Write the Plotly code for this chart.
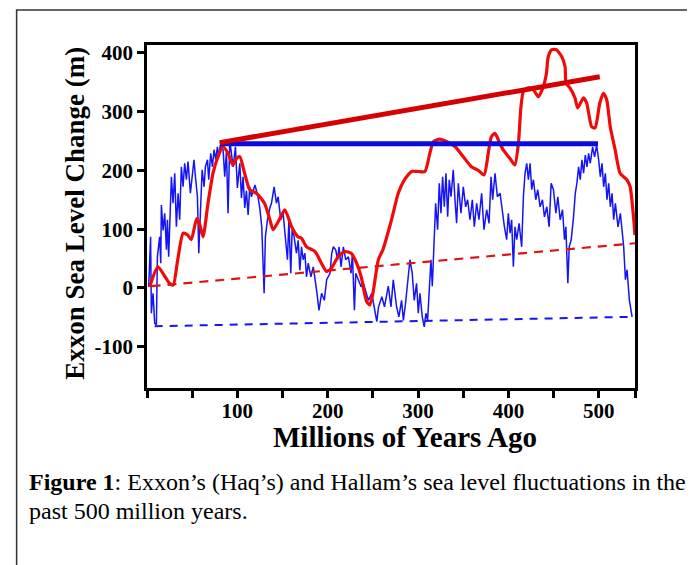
import plotly.graph_objects as go

# ---------------- data ----------------
hallam_age = [3, 12, 20, 25, 29, 34, 40, 45, 49, 55, 58, 62, 67.5, 73, 78.6, 84, 89.7, 95, 99,
              102.7, 108, 113.7, 121, 130, 136, 139.6, 146, 152.5, 160, 167, 171, 176.5, 186,
              193, 198.7, 204, 211.5, 219, 226, 232, 237, 243, 246.6, 250, 256, 261, 270.6,
              278, 285, 293, 300, 307.5, 313, 317, 324, 331.5, 341, 350, 359, 366.6, 373,
              377.6, 381, 385, 388.7, 394, 401.7, 407, 411, 413.8, 416.5, 422, 427.5, 433,
              438.5, 442, 444, 448, 453, 459, 462.6, 463.7, 468, 473.6, 476.6, 483, 486.6,
              492, 495.8, 501, 505, 508.7, 512.6, 518, 523.5, 531, 534.6, 538, 540]
hallam_level = [2, 36, 19, 8, 5, 48, 93, 90, 82, 118, 110, 87, 144, 195, 223, 240, 229, 209, 220,
                223, 195, 167, 161, 144, 116, 99, 115, 133, 104, 87, 84.5, 70, 62,
                42, 28, 33.5, 53, 62, 59, 42, 19, -23, -29, -9, 48, 65, 116,
                161, 184, 198, 198, 198, 229, 249, 253, 249, 240, 223, 206, 200, 192,
                229, 257, 263, 252, 235, 220, 209, 246, 308, 334, 340, 337, 325,
                342, 365, 393, 405, 405, 393, 376, 348, 340, 323, 306, 323, 314,
                274, 272, 314, 331, 320, 274, 235, 195, 184, 172, 127, 90]

exxon_age = [1.9, 3, 4, 4.8, 6.7, 8.5, 10.4, 11.5, 14, 15.2, 15.9, 17.8, 19.6, 21.5, 22.6, 24,
             27, 28.8, 30.7, 32.5, 34.4, 36.2, 38, 39.9, 41.7, 43.6, 45.4, 48, 49.9, 52, 53.6,
             55.8, 57.3, 59.5, 61, 63.2, 64.6, 66.9, 68.3, 70.5, 72.4, 74.2, 76, 77.9, 79.4,
             81.2, 84.2, 86, 87.9, 89.7, 91.6, 93.4, 95.3, 97.9, 100, 102.7, 104.5, 106.3,
             108.2, 110, 111.9, 113.7, 115.6, 117.4, 119.5, 122.8, 124.8, 127, 129.6, 131,
             133.3, 135.9, 137.7, 140.7, 143.2, 145.1, 148, 150.6, 153.2, 155.4, 157, 159.1,
             160.6, 162.8, 165.4, 167.3, 169.1, 171, 172.8, 174.7, 176.5, 178.4, 181.4, 184,
             187.7, 190.3, 193.2, 196.2, 198.8, 202.5, 204.4, 206.2, 208.8, 211, 212.5, 214.7,
             217.3, 219.9, 222.9, 225.8, 227.3, 229.5, 231, 234, 236.9, 239.5, 242.1, 245,
             248.7, 252.4, 254.3, 256.2, 258, 259.9, 262.8, 265.4, 267, 270, 272.5, 276.2,
             278.7, 281.7, 283.7, 286.1, 288.3, 291, 293.5, 295.7, 298.3, 300.2, 302, 304.6,
             306.8, 308.6, 310.5, 312.4, 314.2, 315.7, 317.5, 319.4, 321.6, 323.4, 325.3,
             327.1, 329, 330.8, 332.7, 334.5, 336.4, 338.9, 340.8, 342.6, 344.5, 347.4, 350,
             352.6, 354.8, 357.4, 360, 362.2, 364.8, 367.3, 370.3, 372.9, 375.9, 378.5, 380.7,
             382.5, 385.1, 387.7, 390.7, 393.3, 395.5, 398, 399.8, 401.7, 403.5, 405.4, 407.2,
             409.1, 411.7, 414.6, 416.5, 418.3, 420.2, 422, 423.9, 425.7, 427.6, 430.2, 432.4,
             435, 437.6, 439.8, 442.4, 445, 447.2, 449.8, 452.4, 454.6, 457.2, 459.8, 462,
             463.5, 465.7, 467.2, 469.4, 472, 473.9, 475.7, 477.6, 479.4, 481.3, 483.1, 485,
             486.8, 488.7, 490.5, 493.1, 495.3, 497.5, 499.8, 501.6, 503.5, 505.3, 507.2, 509,
             510.9, 512.7, 514.6, 516.4, 518.3, 521.2, 523.8, 525.6, 527.5, 529.4, 531.2,
             533.8, 536.8]
exxon_level = [2, 60, 87, -43, -9, -60, -63, 53, 87, 42, 141, 98, 127, 65, 116, 53,
               189, 144, 195, 104, 161, 116, 206, 172, 212, 184, 215, 161, 184, 218, 189,
               155, 59, 144, 201, 172, 206, 218, 184, 229, 206, 235, 218, 240, 223,
               243, 235, 189, 232, 127, 252, 229, 206, 240, 170, 212, 153, 189,
               136, 165, 124, 172, 155, 165, 175, 155, 136, 104, -9, 87,
               116, 136, 144, 172, 144, 155, 116, 127, 87, 48, 116, 25,
               98, 87, 59, 81, 30, 70, 48, 59, 19, 42, 19, 36,
               -4, -38, -9, -21, 14, 25, 59, 70, 65, 48, 70, 36,
               70, 48, 53, 25, 59, -38, 25, 14, 2, 8, -4, -21,
               -9, -43, -57, -32, -23, -15, -32, -9, 3, -32, 14, -32,
               -49, -21, -55, -26, 14, 48, 25, -21, 8, -43, -9, -49,
               -66, -43, -55, 3, 48, 3, 70, 144, 99, 178, 127,
               189, 138, 195, 121, 184, 155, 201, 150, 110, 178, 127, 172,
               138, 150, 116, 150, 104, 144, 116, 161, 99, 133, 110, 189,
               150, 195, 155, 161, 127, 104, 82, 127, 93, 116, 36, 104,
               82, 110, 70, 155, 195, 212, 184, 212, 167, 184, 150, 167,
               138, 150, 121, 138, 104, 178, 167, 127, 155, 116, 133, 82,
               104, 8, 70, 82, 121, 161, 178, 206, 184, 218, 195, 226,
               206, 229, 212, 240, 223, 243, 218, 189, 212, 172, 195, 150,
               178, 138, 161, 116, 144, 104, 127, 93, 70, 14, 31,
               -21, -49]

hallam_trend_age = [5, 540]
hallam_trend_level = [3, 76]
exxon_trend_age = [8.5, 537]
exxon_trend_level = [-65, -49]
hallam_rise_age = [80.5, 501]
hallam_rise_level = [247, 359]
exxon_flat_age = [80.5, 499]
exxon_flat_level = [245, 245]

x_ticks = [0, 50, 100, 150, 200, 250, 300, 350, 400, 450, 500, 540]
x_tick_labels = ["", "", "100", "", "200", "", "300", "", "400", "", "500", ""]
y_ticks = [-100, 0, 100, 200, 300, 400]
y_tick_labels = ["-100", "0", "100", "200", "300", "400"]

# ---------------- figure ----------------
SERIF = "Liberation Serif, Times New Roman, serif"
BLUE = "rgb(20,20,245)"
RED = "rgb(240,10,10)"

fig = go.Figure()
fig.add_trace(go.Scatter(x=exxon_age, y=exxon_level, mode="lines",
                         line=dict(color=BLUE, width=1.5), hoverinfo="skip"))
fig.add_trace(go.Scatter(x=hallam_trend_age, y=hallam_trend_level, mode="lines",
                         line=dict(color="rgb(220,20,20)", width=2.2, dash="9px,7px")))
fig.add_trace(go.Scatter(x=exxon_trend_age, y=exxon_trend_level, mode="lines",
                         line=dict(color=BLUE, width=2, dash="8px,7px")))
fig.add_trace(go.Scatter(x=hallam_age, y=hallam_level, mode="lines",
                         line=dict(color=RED, width=3.2, shape="spline", smoothing=0.6)))
fig.add_trace(go.Scatter(x=exxon_flat_age, y=exxon_flat_level, mode="lines",
                         line=dict(color="rgb(10,10,225)", width=5)))
fig.add_trace(go.Scatter(x=hallam_rise_age, y=hallam_rise_level, mode="lines",
                         line=dict(color="rgb(215,0,0)", width=5)))

axis_common = dict(showgrid=False, zeroline=False, showline=True, linecolor="black",
                   linewidth=2.5, mirror=True, ticks="outside", ticklen=7, tickwidth=2.5,
                   tickcolor="black",
                   tickfont=dict(family=SERIF, size=21, color="black", weight="bold"))

fig.update_xaxes(range=[0, 540], tickvals=x_ticks, ticktext=x_tick_labels,
                 ticklabelstandoff=-5, **axis_common)
fig.update_yaxes(range=[-170, 413], tickvals=y_ticks, ticktext=y_tick_labels, **axis_common)

fig.update_layout(
    width=695, height=565,
    margin=dict(l=139, r=68, t=37, b=185),
    paper_bgcolor="white", plot_bgcolor="white",
    showlegend=False,
    shapes=[dict(type="rect", xref="paper", yref="paper",
                 x0=-0.2672, x1=1.1169, y0=-0.62, y1=1.102,
                 line=dict(color="#333333", width=1.5), layer="below")],
    annotations=[
        dict(text="<b>Exxon Sea Level Change (m)</b>", xref="paper", yref="paper",
             x=-0.148, y=0.51, textangle=-90, showarrow=False,
             font=dict(family=SERIF, size=27, color="black"),
             xanchor="center", yanchor="middle"),
        dict(text="<b>Millions of Years Ago</b>", xref="paper", yref="paper",
             x=0.528, y=-0.143, showarrow=False,
             font=dict(family=SERIF, size=29, color="black"),
             xanchor="center", yanchor="middle"),
        dict(text="<b>Figure 1</b>: Exxon\u2019s (Haq\u2019s) and Hallam\u2019s sea level fluctuations in the",
             xref="paper", yref="paper", x=-0.2467, y=-0.274, showarrow=False,
             font=dict(family=SERIF, size=24, color="black"),
             xanchor="left", yanchor="middle"),
        dict(text="past 500 million years.",
             xref="paper", yref="paper", x=-0.2467, y=-0.358, showarrow=False,
             font=dict(family=SERIF, size=24, color="black"),
             xanchor="left", yanchor="middle"),
    ],
)

fig.write_html("out.html")
